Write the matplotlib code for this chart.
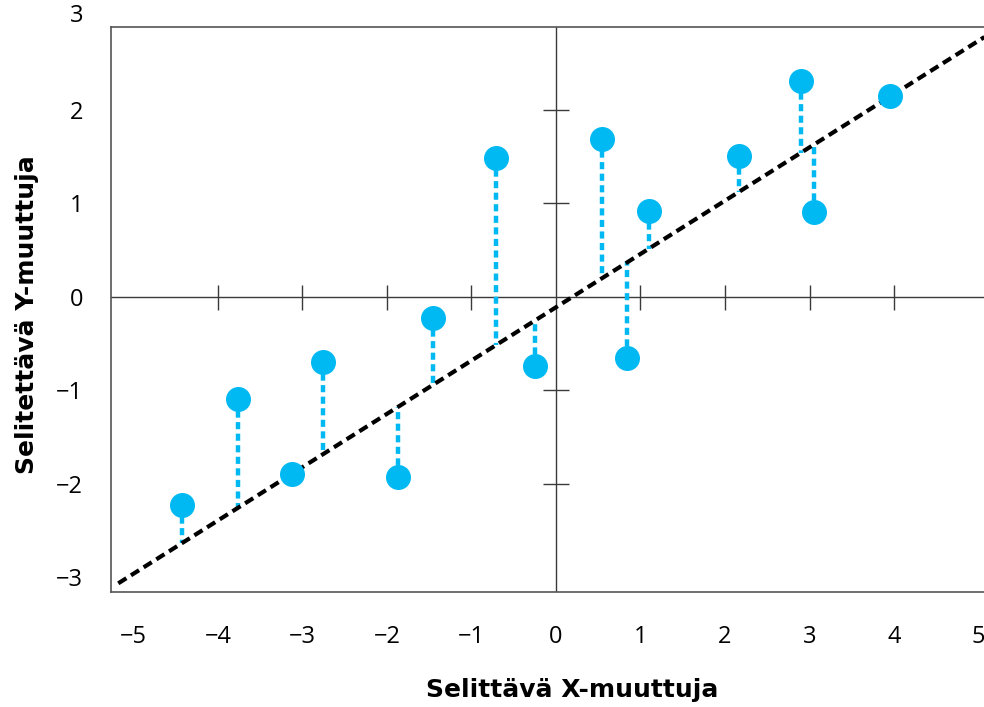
import matplotlib
matplotlib.use("Agg")
import matplotlib.pyplot as plt

plt.rcParams['font.family'] = ['Open Sans', 'DejaVu Sans']

# data points
x = [-4.43, -3.76, -3.12, -2.76, -1.87, -1.46, -0.71, -0.25, 0.54, 0.84, 1.10, 2.17, 2.90, 3.05, 3.95]
y = [-2.22, -1.09, -1.89, -0.70, -1.93, -0.22, 1.49, -0.74, 1.69, -0.65, 0.92, 1.51, 2.31, 0.91, 2.15]

# fitted line y = a + b*x
a = -0.11
b = 0.57
line_x = [-5.18, 5.07]

x_ticks = [-5, -4, -3, -2, -1, 0, 1, 2, 3, 4, 5]
y_ticks = [-3, -2, -1, 0, 1, 2]
inner_xticks = [-4, -3, -2, -1, 1, 2, 3, 4]
inner_yticks = [-2, -1, 1, 2]

blue = '#00B9F2'
axis_col = '#3a3a3a'

fig = plt.figure(figsize=(9.84, 7.07), dpi=100)
ax = fig.add_axes([0.1128, 0.1627, 0.8872, 0.7992])

# inner axes through the origin
ax.axhline(0, color=axis_col, lw=1.0, zorder=1)
ax.axvline(0, color=axis_col, lw=1.0, zorder=1)
ax.plot(inner_xticks, [0] * len(inner_xticks), ls='none', marker='|', ms=18, mew=1.0, color=axis_col, zorder=1)
ax.plot([0] * len(inner_yticks), inner_yticks, ls='none', marker='_', ms=19, mew=1.0, color=axis_col, zorder=1)

# residuals
for xi, yi in zip(x, y):
    ax.plot([xi, xi], [yi, a + b * xi], color=blue, lw=3.2, ls=(0, (1.6, 1.0)), solid_capstyle='butt', zorder=2)

# regression line
ax.plot(line_x, [a + b * v for v in line_x], color='black', lw=3.0, ls=(0, (2.3, 1.3)), zorder=3)

ax.plot(x, y, ls='none', marker='o', ms=18, color=blue, mec='none', zorder=4)

ax.set_xlim(-5.266, 5.065)
ax.set_ylim(-3.155, 2.888)
ax.set_xticks(x_ticks)
ax.set_yticks(y_ticks)
ax.tick_params(length=0, labelsize=17, colors='black')
ax.tick_params(axis='x', pad=24)
ax.tick_params(axis='y', pad=20)
# the "3" label sits above the frame
ax.annotate('3', xy=(0, 3), xycoords=('axes fraction', 'data'), xytext=(-20, 0),
            textcoords='offset points', ha='right', va='center', fontsize=17, annotation_clip=False)

for s in ['left', 'bottom', 'top']:
    ax.spines[s].set_color('#555555')
    ax.spines[s].set_linewidth(1.2)
ax.spines['right'].set_visible(False)

label_font = dict(fontsize=18, fontweight='bold', family='DejaVu Sans')
ax.set_xlabel('Selittävä X-muuttuja', **label_font)
ax.xaxis.set_label_coords(0.528, -0.152)
ax.set_ylabel('Selitettävä Y-muuttuja', **label_font)
ax.yaxis.set_label_coords(-0.083, 0.49)

fig.savefig('out.png', dpi=100)
